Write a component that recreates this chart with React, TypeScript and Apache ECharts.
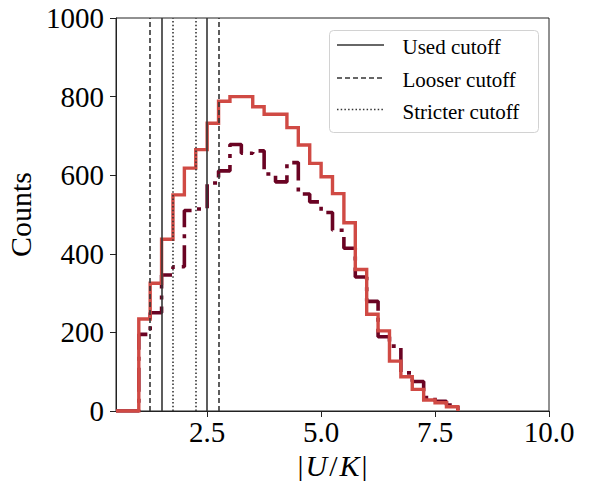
import React, { useEffect, useRef } from "react";
import * as echarts from "echarts";

// Left edges of histogram bins (width 0.25), last bin ends at binEnd
const binEdges = [
  0.5, 0.75, 1.0, 1.25, 1.5, 1.75, 2.0, 2.25, 2.5, 2.75, 3.0, 3.25, 3.5, 3.75, 4.0,
  4.25, 4.5, 4.75, 5.0, 5.25, 5.5, 5.75, 6.0, 6.25, 6.5, 6.75, 7.0, 7.25, 7.5, 7.75,
];
const binEnd = 8.0;

// Main histogram (red, solid step)
const mainCounts = [
  0, 0, 234, 325, 437, 550, 618, 665, 732, 788, 800, 800, 774, 755, 755,
  721, 677, 630, 596, 553, 479, 360, 246, 204, 127, 87, 55, 28, 21, 11,
];

// Second histogram (dark red, dash-dot step)
const altCounts = [
  0, 0, 195, 250, 346, 367, 510, 514, 580, 611, 678, 656, 662, 603, 583,
  632, 552, 532, 505, 460, 414, 341, 279, 189, 165, 97, 75, 34, 25, 15,
];

const usedCutoff = [1.5, 2.5];
const looserCutoff = [1.25, 2.75];
const stricterCutoff = [1.75, 2.25];

const xTicks = [2.5, 5.0, 7.5, 10.0];
const yTicks = [0, 200, 400, 600, 800, 1000];

const legendItems = ["Used cutoff", "Looser cutoff", "Stricter cutoff"];

const SERIF = "'Liberation Serif', 'DejaVu Serif', serif";
const RED = "#d04a44";
const DARK = "#6a0323";
const CUT = "#353535";

function stepData(counts: number[]) {
  const d: number[][] = binEdges.map((e, i) => [e, counts[i]]);
  d.push([binEnd, 0]);
  return d;
}

export default function App() {
  const ref = useRef<HTMLDivElement>(null);

  useEffect(() => {
    if (!ref.current) return;
    const chart = echarts.init(ref.current, null, { renderer: "svg" });

    const cutSeries = (name: string, vals: number[], type: any) => ({
      name,
      type: "line",
      data: [],
      z: 5,
      markLine: {
        silent: true,
        symbol: ["none", "none"],
        label: { show: false },
        animation: false,
        lineStyle: { color: CUT, width: 1.6, type, cap: "butt" },
        emphasis: { disabled: true },
        data: vals.map((v) => ({ xAxis: v })),
      },
    });

    const dashes: any[] = [null, [5, 3], [1.5, 2.2]];
    const rowY = [45, 78, 109.5];
    const graphic: any[] = [
      {
        type: "rect",
        shape: { x: 329.5, y: 30.5, width: 209, height: 102, r: 4 },
        style: { fill: "rgba(255,255,255,0.85)", stroke: "#d2d2d2", lineWidth: 1 },
        z: 10,
      },
    ];
    legendItems.forEach((t, i) => {
      graphic.push({
        type: "line",
        shape: { x1: 337, y1: rowY[i], x2: 384, y2: rowY[i] },
        style: { stroke: CUT, lineWidth: 1.6, lineDash: dashes[i] },
        z: 11,
      });
      graphic.push({
        type: "text",
        x: 402.5,
        y: rowY[i] + 2,
        style: {
          text: t,
          font: `21px ${SERIF}`,
          fill: "#000",
          verticalAlign: "middle",
          align: "left",
        },
        z: 11,
      });
    });

    chart.setOption({
      animation: false,
      grid: {
        left: 116,
        right: 44,
        top: 18,
        bottom: 70,
        outerBoundsMode: "none",
        containLabel: false,
        show: true,
        borderColor: "#222",
        borderWidth: 1,
        backgroundColor: "transparent",
      },
      xAxis: {
        type: "value",
        min: 0.5,
        max: 10,
        name: "{n||}{i|U}{n|/}{i|K}{n||}",
        nameLocation: "middle",
        nameGap: 39,
        nameTextStyle: {
          rich: {
            n: { fontFamily: SERIF, fontSize: 30, color: "#000", padding: [0, 2, 0, 2] },
            i: { fontFamily: SERIF, fontSize: 30, fontStyle: "italic", color: "#000" },
          },
        },
        axisLine: { show: true, lineStyle: { color: "#222", width: 1 } },
        axisTick: { show: true, inside: false, length: 6, customValues: xTicks, lineStyle: { color: "#222" } },
        axisLabel: {
          customValues: xTicks,
          formatter: (v: number) => v.toFixed(1),
          fontFamily: SERIF,
          fontSize: 29,
          color: "#000",
          margin: 6,
        },
        splitLine: { show: false },
      },
      yAxis: {
        type: "value",
        min: 0,
        max: 1000,
        interval: 200,
        name: "Counts",
        nameLocation: "middle",
        nameGap: 79,
        nameTextStyle: { fontFamily: SERIF, fontSize: 30, color: "#000" },
        axisLine: { show: true, lineStyle: { color: "#222", width: 1 } },
        axisTick: { show: true, length: 6, lineStyle: { color: "#222" } },
        axisLabel: {
          fontFamily: SERIF,
          fontSize: 29,
          color: "#000",
          margin: 12,
          formatter: (v: number) => (yTicks.includes(v) ? String(v) : ""),
        },
        splitLine: { show: false },
      },
      graphic,
      series: [
        {
          name: "alt",
          type: "line",
          step: "end",
          data: stepData(altCounts),
          showSymbol: false,
          symbol: "none",
          z: 2,
          lineStyle: { color: DARK, width: 3.6, type: [24, 7, 4, 7], cap: "butt" },
          emphasis: { disabled: true },
        },
        {
          name: "main",
          type: "line",
          step: "end",
          data: stepData(mainCounts),
          showSymbol: false,
          symbol: "none",
          z: 3,
          lineStyle: { color: RED, width: 3.4, cap: "butt", join: "miter" },
          emphasis: { disabled: true },
        },
        cutSeries("Used cutoff", usedCutoff, "solid"),
        cutSeries("Looser cutoff", looserCutoff, [5, 3]),
        cutSeries("Stricter cutoff", stricterCutoff, [1.5, 2.2]),
      ],
    });

    return () => chart.dispose();
  }, []);

  return (
    <div
      ref={ref}
      style={{ position: "fixed", left: 0, top: 0, width: 593, height: 481, background: "#fff" }}
    />
  );
}
